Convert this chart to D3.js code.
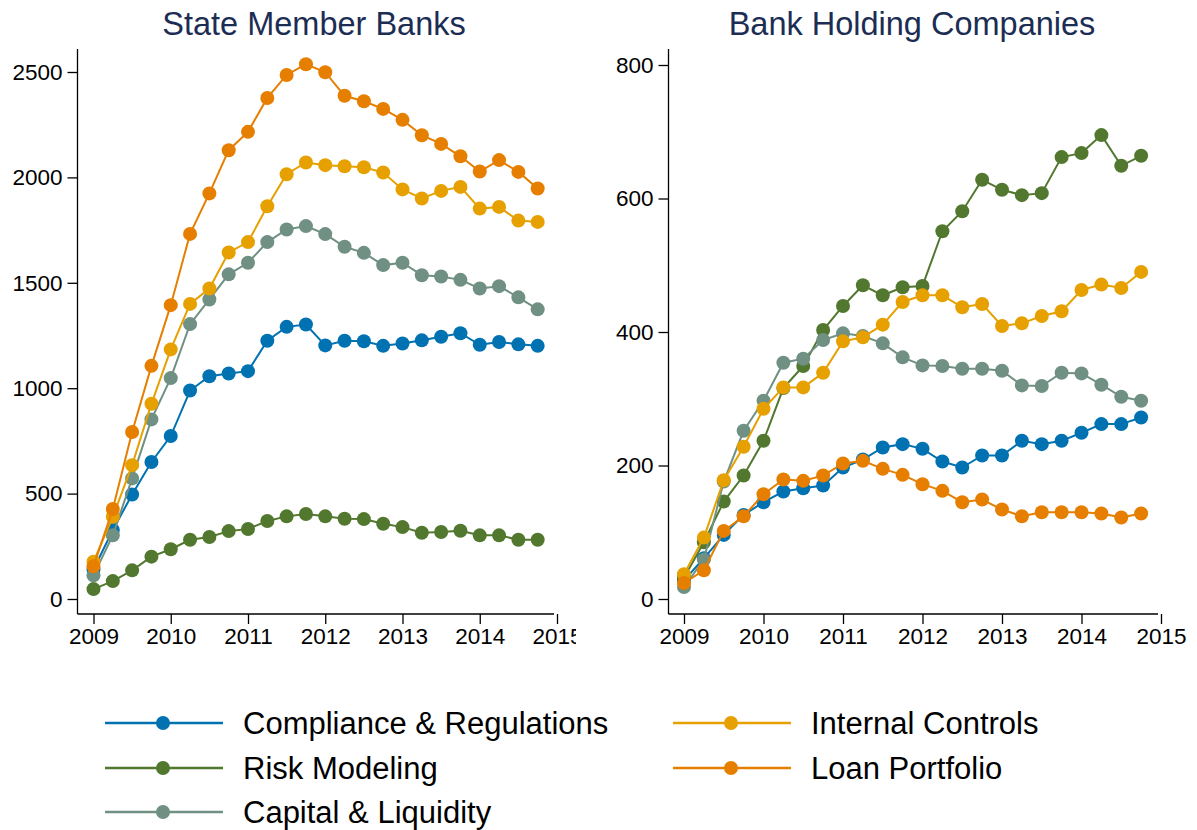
<!DOCTYPE html>
<html>
<head>
<meta charset="utf-8">
<script src="https://cdn.jsdelivr.net/npm/d3@7"></script>
<style>
  body { margin: 0; background: #fff; }
  svg { font-family: "Liberation Sans", Arial, sans-serif; }
</style>
</head>
<body>
<script>
// quarters 2009Q1 .. 2014Q4
const quarters = d3.range(24).map((i) => 2009 + i * 0.25);
const year_ticks = [2009, 2010, 2011, 2012, 2013, 2014, 2015];

const series_names = ['Compliance & Regulations', 'Risk Modeling', 'Capital & Liquidity', 'Internal Controls', 'Loan Portfolio'];
const series_colors = ['#0072b2', '#52782f', '#6f9083', '#e6a000', '#e67e00'];

// State Member Banks
const smb_compliance = [140, 327, 496, 650, 773, 989, 1057, 1070, 1081, 1225, 1291, 1302, 1203, 1225, 1223, 1201, 1212, 1227, 1244, 1261, 1206, 1219, 1208, 1201];
const smb_risk = [47, 85, 136, 201, 236, 281, 294, 322, 332, 370, 392, 403, 392, 381, 379, 357, 341, 314, 318, 324, 302, 302, 281, 281];
const smb_capital = [112, 302, 572, 852, 1048, 1304, 1421, 1540, 1595, 1693, 1753, 1769, 1731, 1671, 1642, 1584, 1595, 1536, 1530, 1514, 1473, 1484, 1431, 1374];
const smb_internal = [177, 390, 635, 926, 1184, 1400, 1473, 1644, 1693, 1863, 2015, 2071, 2058, 2053, 2048, 2023, 1943, 1900, 1936, 1955, 1852, 1860, 1795, 1789];
const smb_loan = [155, 427, 792, 1106, 1394, 1732, 1924, 2129, 2216, 2377, 2486, 2537, 2499, 2387, 2361, 2325, 2273, 2200, 2159, 2100, 2028, 2082, 2026, 1947];
const smb_ticks = [0, 500, 1000, 1500, 2000, 2500];

// Bank Holding Companies
const bhc_compliance = [28, 61, 96, 126, 145, 161, 166, 170, 197, 209, 227, 232, 225, 206, 197, 215, 215, 237, 232, 237, 249, 262, 262, 272];
const bhc_risk = [32, 85, 146, 185, 237, 316, 349, 403, 439, 470, 455, 467, 469, 551, 581, 628, 613, 605, 608, 662, 668, 695, 649, 664];
const bhc_capital = [18, 59, 176, 252, 297, 354, 360, 388, 398, 394, 383, 362, 350, 349, 345, 345, 342, 320, 319, 339, 338, 321, 303, 297];
const bhc_internal = [37, 92, 178, 228, 285, 317, 317, 339, 386, 392, 411, 445, 455, 455, 437, 442, 409, 413, 424, 431, 463, 471, 466, 490];
const bhc_loan = [24, 43, 102, 124, 157, 179, 177, 185, 203, 207, 195, 186, 172, 162, 145, 149, 134, 124, 130, 130, 130, 128, 122, 128];
const bhc_ticks = [0, 200, 400, 600, 800];

const width = 1197;
const height = 830;

const svg = d3.select('body').append('svg')
    .attr('width', width)
    .attr('height', height);

function render_panel(opts) {
    const g = svg.append('g');

    if (opts.clip) {
        svg.append('clipPath').attr('id', opts.id + '-clip')
            .append('rect').attr('x', 0).attr('y', 0).attr('width', opts.clip).attr('height', height);
        g.attr('clip-path', `url(#${opts.id}-clip)`);
    }

    const x = d3.scaleLinear().domain([2009, 2015]).range(opts.x_range);
    const y = d3.scaleLinear().domain([0, opts.y_max]).range(opts.y_range);

    g.append('text')
        .attr('x', opts.title_x)
        .attr('y', 35)
        .attr('text-anchor', 'middle')
        .style('font-size', '32.5px')
        .style('fill', '#1c2d54')
        .text(opts.title);

    // axes
    const y_axis = g.append('g')
        .attr('transform', `translate(${opts.axis_x},0)`)
        .call(d3.axisLeft(y).tickValues(opts.ticks).tickSize(10).tickPadding(5).tickFormat(d3.format('d')));
    y_axis.select('.domain').attr('d', `M0,49V614`);

    const x_axis = g.append('g')
        .attr('transform', `translate(0,614)`)
        .call(d3.axisBottom(x).tickValues(year_ticks).tickSize(10).tickPadding(4).tickFormat(d3.format('d')));
    x_axis.select('.domain').attr('d', `M${opts.axis_x},0H${opts.x_end}`);

    g.selectAll('.tick text').style('font-size', '22.5px').style('fill', '#000');
    g.selectAll('.tick line, .domain').attr('stroke', '#000').attr('stroke-width', 1.3);

    const line = d3.line()
        .x((d, i) => x(quarters[i]))
        .y((d) => y(d));

    opts.data.forEach((vals, k) => {
        const s = g.append('g');
        s.append('path')
            .attr('d', line(vals))
            .attr('fill', 'none')
            .attr('stroke', series_colors[k])
            .attr('stroke-width', 2);
        s.selectAll('circle')
            .data(vals)
            .enter()
            .append('circle')
                .attr('cx', (d, i) => x(quarters[i]))
                .attr('cy', (d) => y(d))
                .attr('r', 7)
                .style('fill', series_colors[k]);
    });
}

render_panel({
    id: 'smb',
    title: 'State Member Banks',
    title_x: 314,
    x_range: [93.5, 557],
    x_end: 554,
    axis_x: 77.5,
    y_max: 2500,
    y_range: [599, 72],
    ticks: smb_ticks,
    clip: 576,
    data: [smb_compliance, smb_risk, smb_capital, smb_internal, smb_loan]
});

render_panel({
    id: 'bhc',
    title: 'Bank Holding Companies',
    title_x: 912,
    x_range: [684, 1161],
    x_end: 1158,
    axis_x: 668.5,
    y_max: 800,
    y_range: [599, 65],
    ticks: bhc_ticks,
    data: [bhc_compliance, bhc_risk, bhc_capital, bhc_internal, bhc_loan]
});

// legend: two columns
const legend_pos = [
    { x: 105, y: 723 }, { x: 105, y: 768 }, { x: 105, y: 812 },
    { x: 673, y: 723 }, { x: 673, y: 768 }
];

const legend = svg.selectAll('.legend-item')
    .data(series_names)
    .enter()
    .append('g')
        .attr('class', 'legend-item')
        .attr('transform', (d, i) => `translate(${legend_pos[i].x},${legend_pos[i].y})`);

legend.append('line')
    .attr('x1', 0).attr('x2', 118)
    .attr('stroke', (d, i) => series_colors[i])
    .attr('stroke-width', 2.5);

legend.append('circle')
    .attr('cx', 58)
    .attr('r', 7)
    .style('fill', (d, i) => series_colors[i]);

legend.append('text')
    .attr('x', 138)
    .attr('y', 11)
    .style('font-size', '31px')
    .style('fill', '#000')
    .text((d) => d);
</script>
</body>
</html>
